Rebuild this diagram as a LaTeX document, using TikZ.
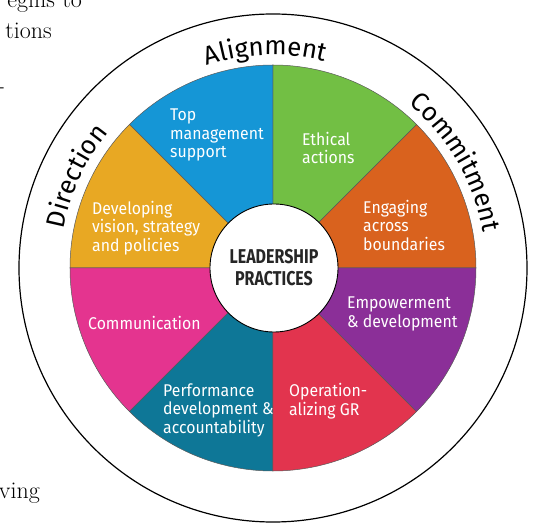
\documentclass[tikz,border=0pt]{standalone}
\usepackage{fontspec}
\usetikzlibrary{decorations.text}

\newfontfamily\lblfont{Fira Sans}[FakeStretch=0.93]
\newfontfamily\hubfont{Fira Sans}[FakeStretch=0.8]
\newfontfamily\ringfont{Fira Sans}

\definecolor{wheelblue}{HTML}{1596D6}
\definecolor{wheelgreen}{HTML}{72BF44}
\definecolor{wheelorange}{HTML}{D9621E}
\definecolor{wheelpurple}{HTML}{8B2F98}
\definecolor{wheelred}{HTML}{E2344E}
\definecolor{wheelteal}{HTML}{0E7797}
\definecolor{wheelpink}{HTML}{E4348F}
\definecolor{wheelyellow}{HTML}{E8A823}

\begin{document}
\begin{tikzpicture}[x=1pt, y=1pt,
  sect/.style={draw=black!65, line width=0.5pt},
  lbl/.style={font=\lblfont\fontsize{17}{18.5}\selectfont, text=white, align=left, anchor=west, inner sep=0pt},
  hub/.style={circle, draw=black, line width=0.9pt, fill=white, minimum size=128pt, inner sep=0pt,
    font=\hubfont\bfseries\fontsize{20}{22}\selectfont, text=black!85, align=center},
  ringlbl/.style={decorate, decoration={text along path, text={|\ringfont\fontsize{26}{28}\selectfont|#1}, text align=center}},
  pagetxt/.style={font=\fontsize{24}{28}\selectfont, anchor=base east, inner sep=0pt}
]
\useasboundingbox (-273,-259) rectangle (265,268);

% leftovers of the page text, cut by the frame
\node[pagetxt] (pg1) at (-191,260) {egins to};
\node[pagetxt] (pg2) at (-221,229) {tions};
\node[pagetxt] (pg3) at (-268,174) {-};
\node[pagetxt] (pg4) at (-233,-230) {ving};

% --- outer ring ---
\draw[line width=1.2pt] (0,0) circle[radius=254pt];

% --- eight sectors, 45 degrees each ---
\filldraw[sect, fill=wheelorange] (0,0) -- (0:203pt) arc[start angle=0, end angle=45, radius=203pt] -- cycle;
\filldraw[sect, fill=wheelgreen] (0,0) -- (45:203pt) arc[start angle=45, end angle=90, radius=203pt] -- cycle;
\filldraw[sect, fill=wheelblue] (0,0) -- (90:203pt) arc[start angle=90, end angle=135, radius=203pt] -- cycle;
\filldraw[sect, fill=wheelyellow] (0,0) -- (135:203pt) arc[start angle=135, end angle=180, radius=203pt] -- cycle;
\filldraw[sect, fill=wheelpink] (0,0) -- (180:203pt) arc[start angle=180, end angle=225, radius=203pt] -- cycle;
\filldraw[sect, fill=wheelteal] (0,0) -- (225:203pt) arc[start angle=225, end angle=270, radius=203pt] -- cycle;
\filldraw[sect, fill=wheelred] (0,0) -- (270:203pt) arc[start angle=270, end angle=315, radius=203pt] -- cycle;
\filldraw[sect, fill=wheelpurple] (0,0) -- (315:203pt) arc[start angle=315, end angle=360, radius=203pt] -- cycle;

% --- hub ---
\node[hub] (hub) at (1,0) {LEADERSHIP\\PRACTICES};

% --- sector labels ---
\node[lbl] (topmgmt) at (-103,133) {Top\\management\\support};
\node[lbl] (ethical) at (29,120) {Ethical\\actions};
\node[lbl] (engaging) at (90,43) {Engaging\\across\\boundaries};
\node[lbl] (empower) at (74,-46) {Empowerment\\\& development};
\node[lbl] (operation) at (16,-133) {Operation-\\alizing GR};
\node[lbl] (perform) at (-110,-142) {Performance\\development \&\\accountability};
\node[lbl] (comm) at (-185,-55) {Communication};
\node[lbl] (vision) at (-181,40) {Developing\\vision, strategy\\and policies};

% --- words along the ring (centred on each arc) ---
\path[ringlbl=Alignment] (132:213pt) arc[start angle=132, end angle=52, radius=213pt];
\path[ringlbl=Direction] (195:213pt) arc[start angle=195, end angle=115, radius=213pt];
\path[ringlbl=Commitment] (70:213pt) arc[start angle=70, end angle=-10, radius=213pt];

\end{tikzpicture}
\end{document}
